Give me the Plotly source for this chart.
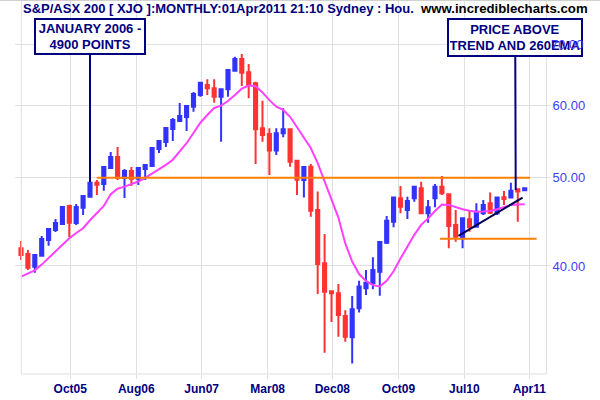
import math
import pandas as pd
import plotly.graph_objects as go

# Valores mensais do S&P/ASX 200 (em centenas de pontos)
meses = pd.date_range("2005-03-01", periods=74, freq="MS").strftime("%b%y").tolist()

abertura = [41.84, 41.24, 39.93, 41.06, 42.72, 43.81, 44.49, 46.56, 44.60, 46.36,
            47.68, 49.39, 49.23, 51.26, 52.72, 49.98, 50.88, 49.90, 51.13, 51.52,
            53.80, 54.75, 56.59, 57.75, 58.33, 59.88, 61.67, 63.25, 62.72, 61.40,
            62.57, 65.58, 67.55, 65.32, 63.52, 56.69, 55.87, 53.57, 55.97, 56.55,
            52.22, 49.74, 51.43, 46.09, 40.27, 37.52, 37.33, 35.24, 33.39, 35.95,
            37.81, 38.28, 39.43, 42.43, 44.74, 47.48, 46.09, 47.48, 48.70, 45.71,
            47.48, 48.90, 47.97, 44.37, 42.90, 45.03, 44.18, 45.71, 46.88, 45.71,
            47.60, 47.56, 48.57, 48.45]
maxima = [42.61, 41.66, 41.20, 43.16, 44.03, 45.06, 46.56, 46.70, 46.80, 47.82,
          49.52, 49.74, 51.45, 53.39, 54.06, 51.13, 51.39, 51.30, 51.70, 54.06,
          54.95, 56.80, 58.19, 60.43, 60.05, 62.13, 63.78, 64.17, 64.17, 62.70,
          65.82, 67.95, 68.42, 66.71, 63.78, 60.79, 56.69, 56.69, 59.63, 56.69,
          52.31, 51.39, 51.78, 48.29, 43.38, 37.60, 38.22, 35.77, 37.07, 38.54,
          39.60, 40.89, 42.60, 45.40, 47.68, 48.98, 47.68, 48.95, 49.52, 47.28,
          49.23, 50.24, 48.09, 46.09, 45.20, 46.09, 46.88, 47.28, 48.17, 47.68,
          48.35, 49.39, 48.65, 48.72]
minimas = [40.62, 39.60, 39.33, 40.96, 42.11, 43.59, 44.37, 43.05, 44.37, 45.51,
           47.56, 47.88, 48.40, 51.20, 49.74, 47.52, 48.98, 49.10, 49.74, 51.45,
           53.25, 54.06, 54.89, 57.60, 56.30, 59.10, 61.40, 61.67, 60.48, 54.79,
           61.40, 65.42, 63.09, 61.16, 51.78, 54.79, 50.37, 52.98, 55.41, 51.43,
           47.88, 47.56, 45.32, 37.26, 32.11, 34.72, 33.44, 33.02, 31.25, 35.55,
           37.17, 37.71, 37.10, 42.30, 44.11, 45.71, 45.06, 47.07, 45.71, 44.63,
           46.40, 47.88, 41.84, 42.54, 41.84, 43.62, 44.10, 45.51, 45.63, 45.51,
           46.68, 47.50, 44.74, 48.43]
fechamento = [41.13, 39.83, 41.13, 42.83, 43.92, 44.60, 46.44, 44.63, 46.44, 47.76,
              49.39, 49.14, 51.39, 52.72, 49.98, 50.88, 49.90, 51.26, 51.65, 53.93,
              54.89, 56.73, 57.90, 58.48, 59.98, 61.82, 63.62, 62.72, 61.40, 62.57,
              65.70, 67.55, 65.26, 63.25, 56.55, 55.73, 53.57, 55.97, 56.55, 52.09,
              49.77, 51.39, 46.01, 40.20, 37.48, 37.33, 35.33, 33.44, 35.84, 37.97,
              38.34, 39.60, 42.51, 44.86, 47.56, 46.48, 47.16, 48.90, 45.71, 46.40,
              48.90, 48.09, 44.26, 43.08, 45.14, 44.11, 45.89, 46.68, 45.78, 47.56,
              47.40, 48.40, 48.29, 48.70]
# média móvel exponencial (linha magenta)
mme = [38.94, 39.22, 39.56, 40.14, 40.82, 41.54, 42.27, 42.92, 43.49, 44.01,
       44.91, 45.74, 46.57, 47.97, 48.65, 48.90, 49.21, 49.54, 50.01, 50.54,
       51.10, 51.68, 52.35, 53.43, 54.58, 56.02, 57.49, 58.63, 59.68, 60.03,
       60.74, 61.68, 62.66, 63.16, 63.05, 62.07, 60.87, 59.87, 59.38, 58.36,
       56.84, 55.37, 53.93, 51.90, 49.55, 47.43, 45.22, 42.35, 40.45, 39.19,
       38.52, 38.11, 37.99, 38.53, 39.47, 40.76, 42.05, 43.28, 44.39, 45.11,
       45.98, 46.75, 46.69, 46.40, 46.19, 46.00, 45.89, 45.91, 45.98, 46.19,
       46.44, 46.69, 46.74, 46.77]

# linhas desenhadas à mão no gráfico (posição em barras, nível)
resistencia_x = [10.97, 73.77]
resistencia_y = [50.02, 50.02]
suporte_x = [60.72, 74.74]
suporte_y = [42.86, 42.86]
tendencia_x = [63.4, 72.7]
tendencia_y = [43.16, 47.57]

# eixo x: grade em espaçamento fixo com rótulos de mês
ticks_x = [7.14, 16.71, 26.19, 35.75, 45.12, 54.71, 64.25, 73.67]
rotulos_x = ["Oct05", "Aug06", "Jun07", "Mar08", "Dec08", "Oct09", "Jul10", "Apr11"]
ticks_y = [40, 50, 60, 70]
rotulos_y = ["40.00", "50.00", "60.00", ""]

x = list(range(len(meses)))
AZUL_ESC = "#000080"
GRADE = "#e0e0e0"

fig = go.Figure()

fig.add_trace(go.Candlestick(
    x=x, open=abertura, high=maxima, low=minimas, close=fechamento,
    text=meses,
    increasing=dict(line=dict(color="#3333ff", width=2), fillcolor="#3333ff"),
    decreasing=dict(line=dict(color="#ff3333", width=2), fillcolor="#ff3333"),
    whiskerwidth=0,
))
fig.add_trace(go.Scatter(x=x, y=mme, mode="lines",
                         line=dict(color="#ff40ff", width=2)))
fig.add_trace(go.Scatter(x=resistencia_x, y=resistencia_y, mode="lines",
                         line=dict(color="#ff8000", width=2)))
fig.add_trace(go.Scatter(x=suporte_x, y=suporte_y, mode="lines",
                         line=dict(color="#ff8000", width=2)))
fig.add_trace(go.Scatter(x=tendencia_x, y=tendencia_y, mode="lines",
                         line=dict(color="#000050", width=2)))

fig.update_layout(
    width=600, height=400, autosize=False,
    margin=dict(l=15, r=54, t=0, b=26),
    paper_bgcolor="white", plot_bgcolor="white",
    showlegend=False,
    boxgap=0.35,
    xaxis=dict(
        range=[-0.87, 76.09],
        rangeslider=dict(visible=False),
        tickmode="array", tickvals=ticks_x, ticktext=rotulos_x,
        tickfont=dict(family="Liberation Sans", size=12, color=AZUL_ESC, weight="bold"),
        showgrid=True, gridcolor=GRADE, gridwidth=1,
        ticks="outside", ticklen=4, tickcolor=GRADE,
        zeroline=False, showline=False,
    ),
    yaxis=dict(
        type="log",
        range=[math.log10(30.43), math.log10(78.44)],
        side="right",
        tickmode="array", tickvals=ticks_y, ticktext=rotulos_y,
        tickfont=dict(family="Liberation Sans", size=13, color="#4040ff"),
        showgrid=True, gridcolor=GRADE, gridwidth=1,
        ticks="outside", ticklen=3, tickcolor=GRADE,
        showline=True, linecolor=GRADE, linewidth=1,
        zeroline=False,
    ),
)

# moldura esquerda e inferior
fig.add_shape(type="line", xref="x", yref="paper", x0=0.043, x1=0.043, y0=0, y1=1,
              line=dict(color=GRADE, width=1))
fig.add_shape(type="line", xref="x", yref="paper", x0=0.043, x1=76.09, y0=0, y1=0,
              line=dict(color=GRADE, width=1))
fig.add_shape(type="line", xref="paper", yref="paper", x0=-0.03, x1=1.11, y0=1, y1=1,
              line=dict(color="#d0d0d0", width=2))

# título e site
fig.add_annotation(
    text="<b>S&P/ASX 200 [ XJO ]:MONTHLY:01Apr2011 21:10 Sydney : Hou.</b>",
    xref="paper", yref="paper", x=0.0113, y=1 - 9 / 374,
    xanchor="left", yanchor="middle", showarrow=False,
    font=dict(family="Liberation Sans", size=13, color=AZUL_ESC),
)
fig.add_annotation(
    text="<b>www.incrediblecharts.com</b>",
    xref="paper", yref="paper", x=(590 - 15) / 531, y=1 - 9 / 374,
    xanchor="right", yanchor="middle", showarrow=False,
    font=dict(family="Liberation Sans", size=13.2, color="black"),
)

# caixas de comentário com ponteiro
fig.add_annotation(
    text="<b>JANUARY 2006 -<br>4900 POINTS</b>",
    x=10, y=math.log10(49.47), xref="x", yref="y",
    ax=0, ay=-146, showarrow=True, arrowhead=0, arrowwidth=2, arrowcolor=AZUL_ESC,
    width=106, height=31, bgcolor="white", bordercolor=AZUL_ESC, borderwidth=2, borderpad=1,
    font=dict(family="Liberation Sans", size=13, color=AZUL_ESC),
)
fig.add_annotation(
    text="<b>PRICE ABOVE<br>TREND AND 260EMA</b>",
    x=71.7, y=math.log10(48.48), xref="x", yref="y",
    ax=-0.5, ay=-153, showarrow=True, arrowhead=0, arrowwidth=2, arrowcolor=AZUL_ESC,
    width=130, height=33, bgcolor="white", bordercolor=AZUL_ESC, borderwidth=2, borderpad=1,
    font=dict(family="Liberation Sans", size=13, color=AZUL_ESC),
)
# rótulo 70.00 por cima da caixa, como no original
fig.add_annotation(
    text="70.00", xref="paper", yref="y", x=1, y=math.log10(70),
    xanchor="left", yanchor="middle", xshift=3, showarrow=False,
    font=dict(family="Liberation Sans", size=13, color="#4040ff"),
)

# a página padrão tem margem de 8px no body; zera para alinhar com 600x400
fig.write_html("out.html", config={"displayModeBar": False},
               post_script="document.body.style.margin='0';")
